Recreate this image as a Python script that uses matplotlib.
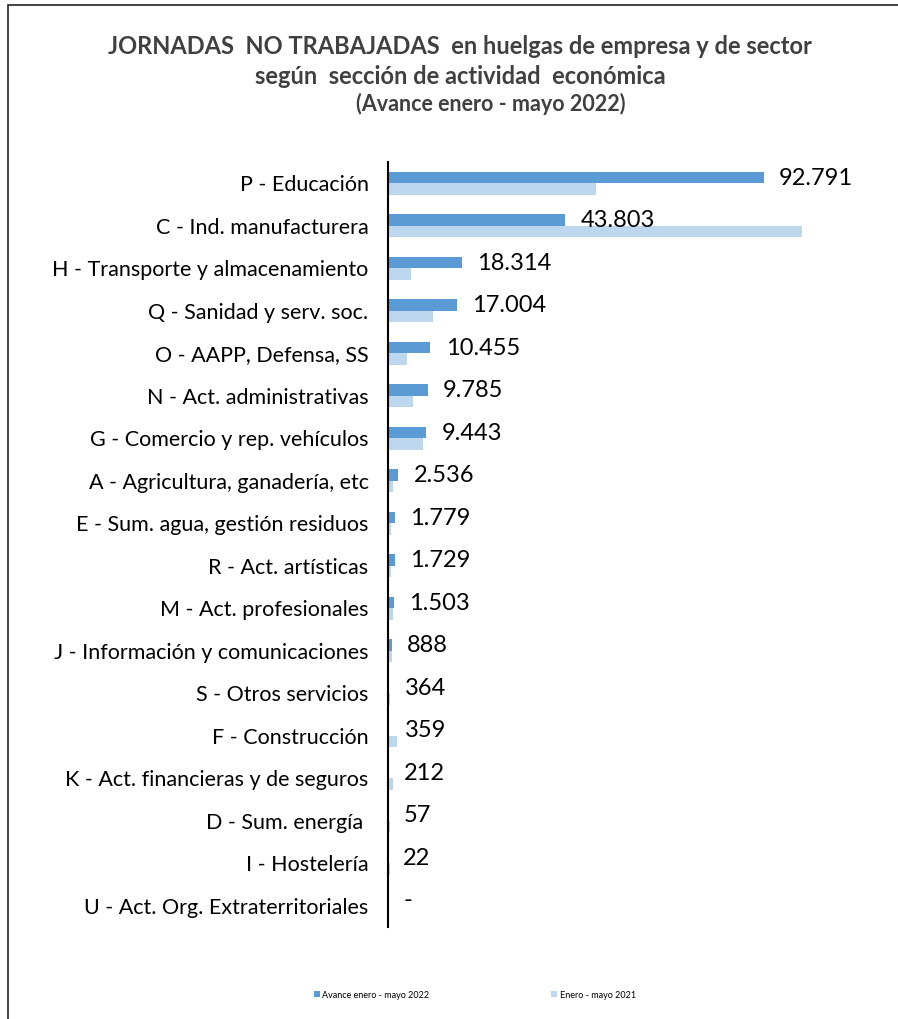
import matplotlib
matplotlib.use("Agg")
import matplotlib.pyplot as plt
import numpy as np

# Datos: jornadas no trabajadas por sección de actividad
categorias = [
    "P - Educación",
    "C - Ind. manufacturera",
    "H - Transporte y almacenamiento",
    "Q - Sanidad y serv. soc.",
    "O - AAPP, Defensa, SS",
    "N - Act. administrativas",
    "G - Comercio y rep. vehículos",
    "A - Agricultura, ganadería, etc",
    "E - Sum. agua, gestión residuos",
    "R - Act. artísticas",
    "M - Act. profesionales",
    "J - Información y comunicaciones",
    "S - Otros servicios",
    "F - Construcción",
    "K - Act. financieras y de seguros",
    "D - Sum. energía ",
    "I - Hostelería",
    "U - Act. Org. Extraterritoriales",
]
avance_2022 = [92791, 43803, 18314, 17004, 10455, 9785, 9443, 2536, 1779,
               1729, 1503, 888, 364, 359, 212, 57, 22, 0]
# valores 2021 estimados a partir de la longitud de las barras
enero_mayo_2021 = [51500, 102200, 5700, 11100, 4650, 6100, 8700, 1300, 800,
                   700, 1250, 1100, 600, 2150, 1200, 600, 600, 0]
etiquetas_2022 = ["92.791", "43.803", "18.314", "17.004", "10.455", "9.785",
                  "9.443", "2.536", "1.779", "1.729", "1.503", "888", "364",
                  "359", "212", "57", "22", "-"]

azul = "#5B9BD5"
azul_claro = "#BDD7EE"
gris_titulo = "#404040"
fuente = "Lato"

W, H = 898, 1019
fig = plt.figure(figsize=(W / 100, H / 100), dpi=100)

# marco del gráfico (solo se ven el borde superior e izquierdo)
fig.patches.append(plt.Rectangle((8 / W, -0.05), 1.2, 1 - 5 / H + 0.05,
                                 transform=fig.transFigure, fill=False,
                                 edgecolor="#222222", linewidth=1.2))

ax = fig.add_axes([388 / W, 1 - 927 / H, (894 - 388) / W, (927 - 162) / H])

y = np.arange(len(categorias))
alto = 0.27
ax.barh(y - alto / 2, avance_2022, height=alto, color=azul,
        label="Avance enero - mayo 2022")
ax.barh(y + alto / 2, enero_mayo_2021, height=alto, color=azul_claro,
        label="Enero - mayo 2021")

ax.set_xlim(0, 125000)
ax.set_ylim(len(categorias) - 0.5, -0.5)

for i, (v, txt) in enumerate(zip(avance_2022, etiquetas_2022)):
    ax.annotate(txt, (v, i - 0.12), xytext=(11, 0), textcoords="offset points",
                ha="left", va="center", fontsize=17, family=fuente,
                color="black")

ax.set_yticks(y)
ax.set_yticklabels(categorias, fontsize=15.5, family=fuente)
ax.tick_params(axis="y", length=0, pad=14)
ax.set_xticks([])
for s in ["top", "right", "bottom"]:
    ax.spines[s].set_visible(False)
ax.spines["left"].set_linewidth(1.5)
ax.spines["left"].set_color("black")

fig.text(460 / W, 1 - 46 / H,
         "JORNADAS  NO TRABAJADAS  en huelgas de empresa y de sector",
         ha="center", va="center", fontsize=17, fontweight="bold",
         family=fuente, color=gris_titulo)
fig.text(460 / W, 1 - 77 / H, "según  sección de actividad  económica",
         ha="center", va="center", fontsize=17, fontweight="bold",
         family=fuente, color=gris_titulo)
fig.text(491 / W, 1 - 104 / H, "(Avance enero - mayo 2022)",
         ha="center", va="center", fontsize=15.5, fontweight="bold",
         family=fuente, color=gris_titulo)

fig.legend(loc="center", bbox_to_anchor=(475 / W, 1 - 995 / H), ncol=2,
           frameon=False, prop={"family": fuente, "size": 6.5},
           handlelength=0.6, handleheight=0.6, columnspacing=13.5,
           handletextpad=0.3)

fig.savefig("out.png", dpi=100, facecolor="white")
